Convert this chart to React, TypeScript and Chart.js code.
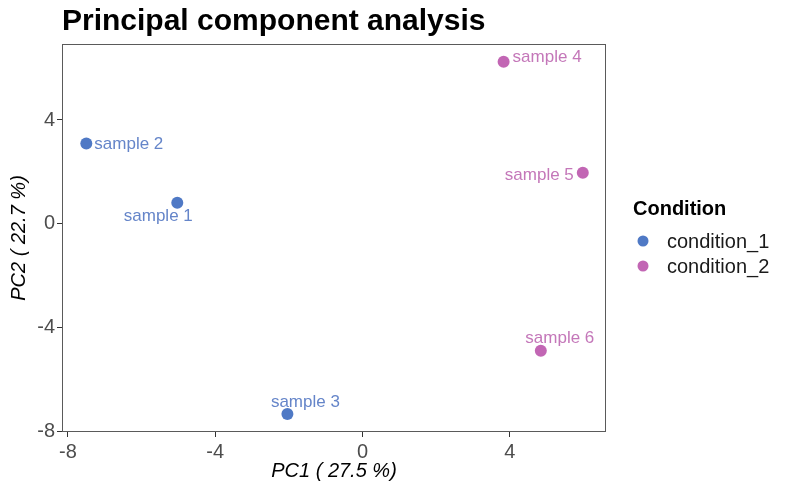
import { useEffect, useRef } from "react";
import { Chart, registerables } from "chart.js";
import type { Plugin } from "chart.js";

Chart.register(...registerables);

// PCA scores
const sampleNames = ["sample 1", "sample 2", "sample 3", "sample 4", "sample 5", "sample 6"];
const pc1 = [-5.03, -7.5, -2.04, 3.83, 5.98, 4.84];
const pc2 = [0.81, 3.09, -7.34, 6.25, 1.97, -4.9];
const sampleCondition = ["condition_1", "condition_1", "condition_1", "condition_2", "condition_2", "condition_2"];
const conditionNames = ["condition_1", "condition_2"];
const xTicks = [-8, -4, 0, 4];
const yTicks = [-8, -4, 0, 4];

const FONT = "'Liberation Sans', Arial, Helvetica, sans-serif";
const pointColors = ["#4f79c5", "#c266b4"];
const labelColors = ["#6585c9", "#c477b9"];

// where each text label sits relative to its point (repel-style placement)
const labelOffsets: Record<string, { dx: number; dy: number; align: CanvasTextAlign }> = {
  "sample 1": { dx: -19, dy: 14, align: "center" },
  "sample 2": { dx: 8, dy: 1, align: "left" },
  "sample 3": { dx: 18, dy: -12, align: "center" },
  "sample 4": { dx: 9, dy: -4, align: "left" },
  "sample 5": { dx: -9, dy: 3, align: "right" },
  "sample 6": { dx: 19, dy: -13, align: "center" },
};

const decorPlugin: Plugin<"scatter"> = {
  id: "decor",
  afterDatasetsDraw(chart) {
    const { ctx, chartArea } = chart;
    ctx.save();

    // panel border
    ctx.strokeStyle = "#5a5a5a";
    ctx.lineWidth = 1;
    ctx.strokeRect(chartArea.left + 0.5, chartArea.top + 0.5, chartArea.width - 1, chartArea.height - 1);

    // point labels
    ctx.font = `17px ${FONT}`;
    ctx.textBaseline = "middle";
    chart.data.datasets.forEach((ds, di) => {
      const meta = chart.getDatasetMeta(di);
      meta.data.forEach((el, i) => {
        const name = (ds.data[i] as any).name as string;
        const off = labelOffsets[name];
        ctx.fillStyle = labelColors[di];
        ctx.textAlign = off.align;
        ctx.fillText(name, el.x + off.dx, el.y + off.dy);
      });
    });

    // title
    ctx.fillStyle = "#000";
    ctx.textAlign = "left";
    ctx.textBaseline = "alphabetic";
    ctx.font = `bold 30px ${FONT}`;
    ctx.fillText("Principal component analysis", chartArea.left, 30);

    // legend
    const lx = chartArea.right + 27;
    ctx.font = `bold 20px ${FONT}`;
    ctx.fillText("Condition", lx, 215);
    ctx.font = `20px ${FONT}`;
    ctx.textBaseline = "middle";
    conditionNames.forEach((c, i) => {
      const y = 241 + i * 25;
      ctx.fillStyle = pointColors[i];
      ctx.beginPath();
      ctx.arc(lx + 10, y, 5.5, 0, Math.PI * 2);
      ctx.fill();
      ctx.fillStyle = "#1a1a1a";
      ctx.fillText(c, lx + 34, y + 1);
    });

    ctx.restore();
  },
};

export default function App() {
  const canvasRef = useRef<HTMLCanvasElement | null>(null);

  useEffect(() => {
    if (!canvasRef.current) return;

    const datasets = conditionNames.map((cond, ci) => ({
      label: cond,
      data: sampleNames
        .map((name, i) => ({ x: pc1[i], y: pc2[i], name, cond: sampleCondition[i] }))
        .filter((p) => p.cond === cond),
      backgroundColor: pointColors[ci],
      borderColor: pointColors[ci],
      pointRadius: 6,
      pointBorderWidth: 0,
    }));

    const chart = new Chart(canvasRef.current, {
      type: "scatter",
      data: { datasets },
      options: {
        responsive: false,
        animation: false,
        layout: { padding: { top: 44, right: 194, bottom: 0, left: 0 } },
        plugins: {
          legend: { display: false },
          title: { display: false },
          tooltip: { enabled: false },
        },
        scales: {
          x: {
            type: "linear",
            min: -8.16,
            max: 6.61,
            afterBuildTicks: (s) => {
              s.ticks = xTicks.map((value) => ({ value }));
            },
            afterFit: (s) => {
              s.height = 62;
            },
            grid: { drawOnChartArea: false, drawTicks: true, tickLength: 5, color: "#333" },
            border: { display: false },
            ticks: { font: { family: FONT, size: 20 }, color: "#4d4d4d", padding: 3 },
            title: {
              display: true,
              text: "PC1 ( 27.5 %)",
              font: { family: FONT, size: 20, style: "italic" },
              color: "#000",
              padding: { top: 0, bottom: 11 },
            },
          },
          y: {
            type: "linear",
            min: -8.03,
            max: 6.93,
            afterBuildTicks: (s) => {
              s.ticks = yTicks.map((value) => ({ value }));
            },
            afterFit: (s) => {
              s.width = 62;
            },
            grid: { drawOnChartArea: false, drawTicks: true, tickLength: 5, color: "#333" },
            border: { display: false },
            ticks: { font: { family: FONT, size: 20 }, color: "#4d4d4d", padding: 2 },
            title: {
              display: true,
              text: "PC2 ( 22.7 %)",
              font: { family: FONT, size: 20, style: "italic" },
              color: "#000",
              padding: { top: 7, bottom: 0 },
            },
          },
        },
      },
      plugins: [decorPlugin],
    });

    return () => {
      chart.destroy();
    };
  }, []);

  return (
    <div style={{ position: "absolute", left: 0, top: 0, width: 800, height: 494, background: "#fff" }}>
      <canvas ref={canvasRef} width={800} height={494} />
    </div>
  );
}
